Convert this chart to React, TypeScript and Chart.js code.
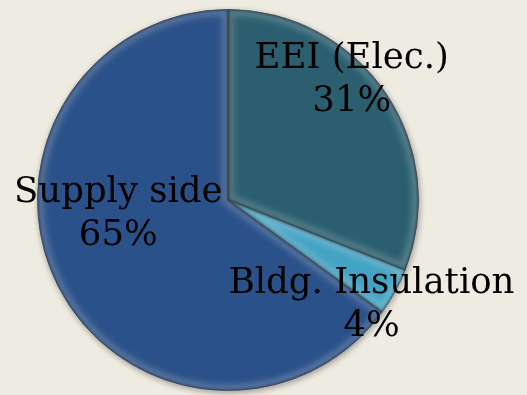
import React, { useEffect, useRef } from "react";
import { Chart, registerables } from "chart.js";

Chart.register(...registerables);

const categories = ["EEI (Elec.)", "Bldg. Insulation", "Supply side"];
const shares = [31, 4, 65];
const percentLabels = ["31%", "4%", "65%"];

const sliceColors = ["#2b5f70", "#43a3c4", "#2a5189"];
const BG = "#eeebe1";

// label placement: fraction of radius and angle (degrees, clockwise from +x)
const labelPlacement = [
  { r: 0.87, a: -41.7 },
  { r: 0.963, a: 38.5 },
  { r: 0.589, a: 167.9 },
];

const bevelPlugin = {
  id: "bevel",
  beforeDatasetsDraw(chart: any) {
    const ctx = chart.ctx;
    ctx.save();
    ctx.shadowColor = "rgba(0,0,0,0.35)";
    ctx.shadowBlur = 6;
    ctx.shadowOffsetX = 1;
    ctx.shadowOffsetY = 2;
  },
  afterDatasetsDraw(chart: any) {
    const ctx = chart.ctx;
    ctx.restore();
    const meta = chart.getDatasetMeta(0);
    meta.data.forEach((arc: any) => {
      const { x, y, startAngle, endAngle, outerRadius } = arc.getProps(
        ["x", "y", "startAngle", "endAngle", "outerRadius"],
        true
      );
      const path = () => {
        ctx.beginPath();
        ctx.moveTo(x, y);
        ctx.arc(x, y, outerRadius, startAngle, endAngle);
        ctx.closePath();
      };
      ctx.save();
      path();
      ctx.clip();
      ctx.filter = "blur(3px)";
      path();
      ctx.lineJoin = "round";
      ctx.strokeStyle = "rgba(255,255,255,0.22)";
      ctx.lineWidth = 12;
      ctx.stroke();
      ctx.filter = "blur(1px)";
      path();
      ctx.strokeStyle = "rgba(0,0,0,0.35)";
      ctx.lineWidth = 2.5;
      ctx.stroke();
      ctx.restore();
    });
  },
};

const labelPlugin = {
  id: "sliceLabels",
  afterDraw(chart: any) {
    const ctx = chart.ctx;
    const meta = chart.getDatasetMeta(0);
    ctx.save();
    ctx.font = '35.5px "DejaVu Serif"';
    ctx.fillStyle = "#000000";
    ctx.textAlign = "center";
    ctx.textBaseline = "alphabetic";
    meta.data.forEach((arc: any, i: number) => {
      const { x, y, outerRadius } = arc.getProps(["x", "y", "outerRadius"], true);
      const p = labelPlacement[i];
      const ang = (p.a * Math.PI) / 180;
      const ax = x + Math.cos(ang) * outerRadius * p.r;
      const ay = y + Math.sin(ang) * outerRadius * p.r;
      ctx.fillText(categories[i], ax, ay - 21.5);
      ctx.fillText(percentLabels[i], ax, ay + 21.5);
    });
    ctx.restore();
  },
};

export default function App() {
  const ref = useRef<HTMLCanvasElement>(null);
  useEffect(() => {
    if (!ref.current) return;
    const chart = new Chart(ref.current, {
      type: "pie",
      data: {
        labels: categories,
        datasets: [
          {
            data: shares,
            backgroundColor: sliceColors,
            borderColor: "rgba(20,35,60,0.6)",
            borderWidth: 1,
          },
        ],
      },
      options: {
        responsive: false,
        animation: false,
        layout: { padding: { left: 37, right: 108, top: 9, bottom: 4 } },
        plugins: {
          legend: { display: false },
          tooltip: { enabled: false },
        },
      },
      plugins: [bevelPlugin, labelPlugin],
    });
    return () => chart.destroy();
  }, []);
  return (
    <div
      style={{
        position: "fixed",
        left: 0,
        top: 0,
        width: 527,
        height: 395,
        background: BG,
      }}
    >
      <canvas ref={ref} width={527} height={395} style={{ display: "block" }} />
    </div>
  );
}
